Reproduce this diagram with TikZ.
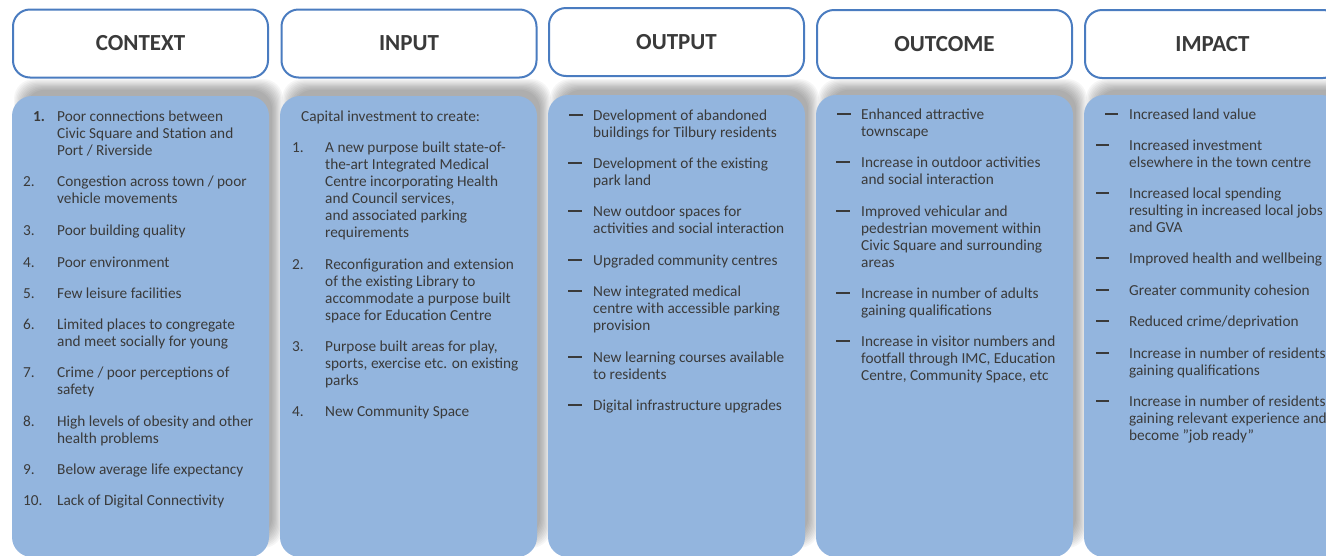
\documentclass[tikz,border=0pt]{standalone}
\usepackage{fontspec}
\setmainfont{Carlito}
\definecolor{bodyblue}{HTML}{93B5DE}
\definecolor{hdrblue}{HTML}{4A7CC0}
\definecolor{txtc}{HTML}{3A3A3A}
\newcommand\ml[1]{\vtop{\let\\\cr\halign{##\hfil\cr#1\crcr}}}
\begin{document}
\begin{tikzpicture}[x=1pt,y=-1pt,
  hdr/.style={draw=hdrblue, line width=2pt, fill=white, rounded corners=17pt,
    minimum width=255pt, minimum height=68pt, inner sep=0pt, text=txtc,
    font=\fontsize{23}{25}\selectfont\bfseries},
  txt/.style={inner sep=0pt, anchor=base west, text=txtc,
    font=\fontsize{15.3}{17}\selectfont},
  dashmark/.style={draw=txtc, line width=1.8pt}
]
\useasboundingbox (0,0) rectangle (1326,555);
\fill[white] (0,0) rectangle (1326,555);

% shadows and bodies
\foreach \bx in {12, 280, 548, 816, 1084}{
  \foreach \k in {0,...,9}{
    \fill[black, opacity=0.036, rounded corners=20pt]
      (\bx+2+\k*1.2, 79+\k*1.2) rectangle (\bx+271-\k*1.2, 548-\k*1.2);
  }
}
\foreach \bx/\by in {12/96, 280/96, 548/95, 816/95, 1084/95}{
  \fill[bodyblue, rounded corners=20pt] (\bx,\by) rectangle (\bx+257,557);
}

% headers
\node[hdr] (hcontext) at (140.5,43.5) {CONTEXT};
\node[hdr] (hinput) at (409,43.5) {INPUT};
\node[hdr] (houtput) at (676.5,42) {OUTPUT};
\node[hdr] (houtcome) at (944.5,44) {OUTCOME};
\node[hdr] (himpact) at (1212.5,44) {IMPACT};

% CONTEXT
\node[txt] (c1n) at (33,121) {\bfseries 1.};
\node[txt] (c1) at (57,121) {\ml{Poor connections between\\Civic Square and Station and\\Port / Riverside}};
\node[txt] (c2n) at (23,186) {2.};
\node[txt] (c2) at (57,186) {\ml{Congestion across town / poor\\vehicle movements}};
\node[txt] (c3n) at (23,235) {3.};
\node[txt] (c3) at (57,235) {Poor building quality};
\node[txt] (c4n) at (23,267) {4.};
\node[txt] (c4) at (57,267) {Poor environment};
\node[txt] (c5n) at (23,298) {5.};
\node[txt] (c5) at (57,298) {Few leisure facilities};
\node[txt] (c6n) at (23,329) {6.};
\node[txt] (c6) at (57,329) {\ml{Limited places to congregate\\and meet socially for young}};
\node[txt] (c7n) at (23,377) {7.};
\node[txt] (c7) at (57,377) {\ml{Crime / poor perceptions of\\safety}};
\node[txt] (c8n) at (23,426) {8.};
\node[txt] (c8) at (57,426) {\ml{High levels of obesity and other\\health problems}};
\node[txt] (c9n) at (23,474) {9.};
\node[txt] (c9) at (57,474) {Below average life expectancy};
\node[txt] (c10n) at (23,505) {10.};
\node[txt] (c10) at (57,505) {Lack of Digital Connectivity};

% INPUT
\node[txt] (i0) at (301,121) {Capital investment to create:};
\node[txt] (i1n) at (292,152) {1.};
\node[txt] (i1) at (325,152) {\ml{A new purpose built state-of-\\the-art Integrated Medical\\Centre incorporating Health\\and Council services,\\and associated parking\\requirements}};
\node[txt] (i2n) at (292,269) {2.};
\node[txt] (i2) at (325,269) {\ml{Reconfiguration and extension\\of the existing Library to\\accommodate a purpose built\\space for Education Centre}};
\node[txt] (i3n) at (292,351) {3.};
\node[txt] (i3) at (325,351) {\ml{Purpose built areas for play,\\sports, exercise etc. on existing\\parks}};
\node[txt] (i4n) at (292,416) {4.};
\node[txt] (i4) at (325,416) {New Community Space};

% OUTPUT
\foreach \dx/\yy in {569/115, 568/163, 568/211, 568/260, 568/291, 568/357, 568/405}{
  \draw[dashmark] (\dx,\yy) -- (\dx+14,\yy);
}
\node[txt] (o1) at (593,120) {\ml{Development of abandoned\\buildings for Tilbury residents}};
\node[txt] (o2) at (593,168) {\ml{Development of the existing\\park land}};
\node[txt] (o3) at (593,216) {\ml{New outdoor spaces for\\activities and social interaction}};
\node[txt] (o4) at (593,265) {Upgraded community centres};
\node[txt] (o5) at (593,296) {\ml{New integrated medical\\centre with accessible parking\\provision}};
\node[txt] (o6) at (593,362) {\ml{New learning courses available\\to residents}};
\node[txt] (o7) at (593,410) {Digital infrastructure upgrades};

% OUTCOME
\foreach \dx/\yy in {837/114, 836/162, 836/211, 836/293, 836/341}{
  \draw[dashmark] (\dx,\yy) -- (\dx+14,\yy);
}
\node[txt] (u1) at (861,119) {\ml{Enhanced attractive\\townscape}};
\node[txt] (u2) at (861,167) {\ml{Increase in outdoor  activities\\and social interaction}};
\node[txt] (u3) at (861,216) {\ml{Improved vehicular and\\pedestrian movement within\\Civic Square and surrounding\\areas}};
\node[txt] (u4) at (861,298) {\ml{Increase in number of adults\\gaining qualifications}};
\node[txt] (u5) at (861,346) {\ml{Increase in visitor numbers and\\footfall through IMC, Education\\Centre, Community Space, etc}};

% IMPACT
\foreach \dx/\yy in {1105/114, 1096/145, 1096/193, 1096/258, 1096/290, 1096/321, 1096/353, 1096/401}{
  \draw[dashmark] (\dx,\yy) -- (\dx+13,\yy);
}
\node[txt] (m1) at (1129,119) {Increased land value};
\node[txt] (m2) at (1129,150) {\ml{Increased investment\\elsewhere in the town centre}};
\node[txt] (m3) at (1129,198) {\ml{Increased local spending\\resulting in increased local jobs\\and GVA}};
\node[txt] (m4) at (1129,263) {Improved health and wellbeing};
\node[txt] (m5) at (1129,295) {Greater community cohesion};
\node[txt] (m6) at (1129,326) {Reduced crime/deprivation};
\node[txt] (m7) at (1129,358) {\ml{Increase in number of residents\\gaining qualifications}};
\node[txt] (m8) at (1129,406) {\ml{Increase in number of residents\\gaining relevant experience and\\become \char34 job ready\char34}};
\end{tikzpicture}
\end{document}
